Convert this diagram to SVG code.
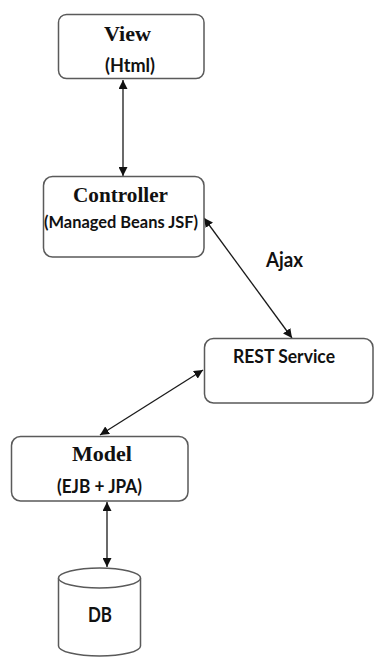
<svg xmlns="http://www.w3.org/2000/svg" width="374" height="657" viewBox="0 0 374 657">
  <style>
    .box { fill: #ffffff; stroke: #5a5a5a; stroke-width: 1.5; }
    .title { font-family: "Liberation Serif", "Times New Roman", serif; font-weight: bold; font-size: 21.5px; fill: #111111; text-anchor: middle; }
    .sub { font-family: Lato, "Liberation Sans", Arial, sans-serif; font-weight: bold; fill: #111111; }
    .link { fill: none; stroke: #1a1a1a; stroke-width: 1.3; marker-start: url(#arrow); marker-end: url(#arrow); }
  </style>
  <defs>
    <marker id="arrow" viewBox="0 0 10 10" refX="10" refY="5" markerWidth="9" markerHeight="9" markerUnits="userSpaceOnUse" orient="auto-start-reverse">
      <path d="M0,0 L10,5 L0,10 z" fill="#111111"/>
    </marker>
  </defs>

  <rect width="374" height="657" fill="#ffffff"/>

  <g id="connectors">
    <line class="link" x1="123" y1="80" x2="123" y2="176"/>
    <line class="link" x1="204" y1="218" x2="292" y2="338"/>
    <line class="link" x1="203" y1="370" x2="100" y2="435"/>
    <line class="link" x1="107" y1="502" x2="107" y2="567"/>
  </g>

  <g id="view">
    <rect class="box" x="58.5" y="14.5" width="145.5" height="64" rx="8"/>
    <text class="title" x="127.5" y="41" textLength="47" lengthAdjust="spacingAndGlyphs">View</text>
    <text class="sub" x="105" y="72" font-size="18.5" textLength="50" lengthAdjust="spacingAndGlyphs">(Html)</text>
  </g>

  <g id="controller">
    <rect class="box" x="43.5" y="176.5" width="160.5" height="80.5" rx="9"/>
    <text class="title" x="120.5" y="202" textLength="95" lengthAdjust="spacingAndGlyphs">Controller</text>
    <text class="sub" x="44" y="228" font-size="17.5" textLength="154" lengthAdjust="spacingAndGlyphs">(Managed Beans JSF)</text>
  </g>

  <g id="ajax-label">
    <text class="sub" x="266" y="267" font-size="20.5" textLength="37" lengthAdjust="spacingAndGlyphs">Ajax</text>
  </g>

  <g id="rest-service">
    <rect class="box" x="204.5" y="338.5" width="168.5" height="64.5" rx="9"/>
    <text class="sub" x="233" y="363" font-size="19.5" textLength="102" lengthAdjust="spacingAndGlyphs">REST Service</text>
  </g>

  <g id="model">
    <rect class="box" x="11.5" y="436.5" width="176.5" height="64.5" rx="9"/>
    <text class="title" x="102" y="461" font-size="22" textLength="60" lengthAdjust="spacingAndGlyphs">Model</text>
    <text class="sub" x="57" y="493" font-size="19" textLength="85" lengthAdjust="spacingAndGlyphs">(EJB + JPA)</text>
  </g>

  <g id="db">
    <path class="box" d="M58.5,578 L58.5,646 A41,10 0 0 0 140.5,646 L140.5,578"/>
    <ellipse class="box" cx="99.5" cy="578" rx="41" ry="10"/>
    <text class="sub" x="88" y="622" font-size="20" textLength="24" lengthAdjust="spacingAndGlyphs">DB</text>
  </g>
</svg>
